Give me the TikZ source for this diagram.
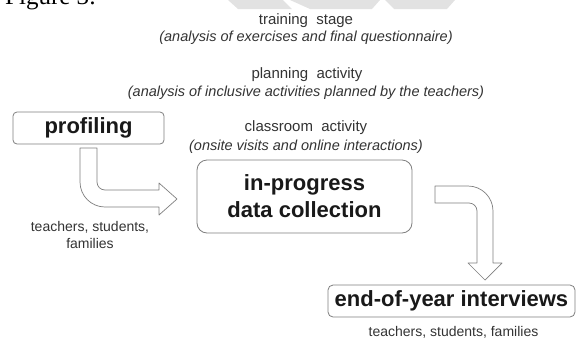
\documentclass[tikz,border=0pt]{standalone}
\usepackage{fontspec}
\setmainfont{Liberation Sans}
\newfontfamily\figfont{Liberation Serif}
\definecolor{boxgray}{HTML}{7F7F7F}
\definecolor{txtgray}{HTML}{333333}
\definecolor{markgray}{HTML}{E2E2E2}
\begin{document}
\begin{tikzpicture}[
  x=1pt, y=-1pt,
  every node/.style={inner sep=0pt, text=txtgray, font=\fontsize{15}{18}\selectfont}
]
\tikzset{
  stagebox/.style={draw=boxgray, line width=0.8pt, fill=white, text=black!90,
    align=center, font=\bfseries\fontsize{22}{27}\selectfont},
  notetext/.style={font=\itshape\fontsize{14.5}{17}\selectfont},
  whotext/.style={align=center, font=\fontsize{14}{17}\selectfont},
  blockarrow/.style={draw=boxgray, line width=0.7pt, fill=white, line join=round},
  watermark/.style={fill=markgray, draw=none}
}
\useasboundingbox (0,0) rectangle (576,338);

% marca d'agua e legenda cortadas no topo
\fill[watermark] (228,0) -- (283,0) -- (292,9) -- (238,9) -- cycle;
\fill[watermark] (290,0) -- (380,0) -- (372,9) -- (310,9) -- cycle;
\fill[watermark] (385,0) -- (455,0) -- (447,9) -- (394,9) -- cycle;
\node[anchor=base west, text=black, font=\figfont\fontsize{25}{30}\selectfont] (fig) at (5,4) {Figure 3:};

\node (training) at (306,21) {training\ \ stage};
\node[notetext] (trainingnote) at (306,38) {(analysis of exercises and final questionnaire)};
\node (planning) at (307,75) {planning\ \ activity};
\node[notetext] (planningnote) at (306,93) {(analysis of inclusive activities planned by the teachers)};
\node (classroom) at (306,128) {classroom\ \ activity};
\node[notetext] (classroomnote) at (306,147) {(onsite visits and online interactions)};

\node[stagebox, minimum width=151pt, minimum height=32pt, rounded corners=4pt] (profiling) at (88.5,128) {profiling};
\node[stagebox, minimum width=215pt, minimum height=73pt, rounded corners=10pt] (inprogress) at (304.5,196.5) {in-progress\\data collection};
\node[stagebox, minimum width=247pt, minimum height=32pt, rounded corners=5pt] (endofyear) at (451.5,301) {end-of-year interviews};

\node[whotext] (profilingwho) at (90,234.5) {teachers, students,\\families};
\node[whotext] (endofyearwho) at (453.5,332) {teachers, students, families};

% seta de profiling para in-progress
\draw[blockarrow] (80,148) -- (80,182) .. controls (80,195.8) and (91.2,207) .. (105,207)
  -- (159,207) -- (159,215) -- (177,199) -- (159,183) -- (159,190) -- (105,190)
  .. controls (100.6,190) and (97,186.4) .. (97,182) -- (97,148) -- cycle;
% seta de in-progress para end-of-year
\draw[blockarrow] (435,186) -- (468,186) .. controls (481.8,186) and (493,197.2) .. (493,211)
  -- (493,263) -- (502,263) -- (485,280) -- (468,263) -- (477,263) -- (477,211)
  .. controls (477,206.6) and (473.4,203) .. (469,203) -- (435,203) -- cycle;
\end{tikzpicture}
\end{document}
